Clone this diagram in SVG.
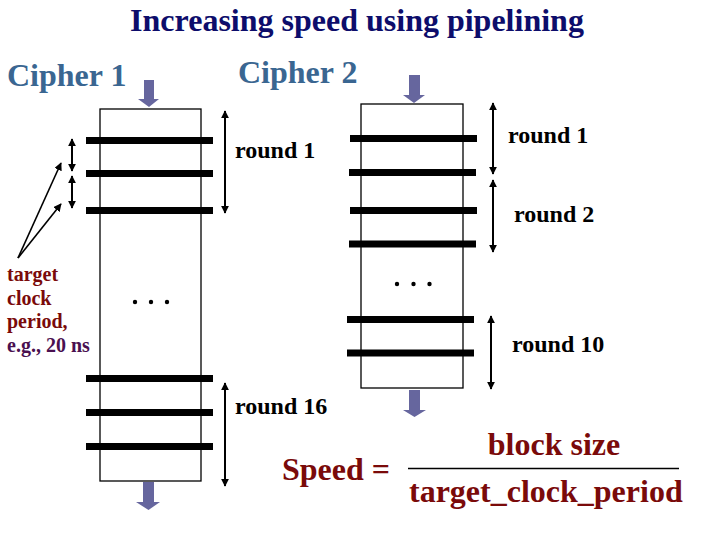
<svg xmlns="http://www.w3.org/2000/svg" width="720" height="540" viewBox="0 0 720 540">
<style>
text{font-family:"Liberation Serif","Tinos","Times New Roman","DejaVu Serif",serif;font-weight:bold}
.title{font-size:32px;fill:#0d0d6b}
.cipher{font-size:32px;fill:#3a6691}
.round{font-size:24px;fill:#000}
.note{font-size:20px;fill:#7a0a0a}
.eg{font-size:20px;fill:#4a1050}
.speed{font-size:32px;fill:#7a0a0a}
.box{fill:#fff;stroke:#000;stroke-width:1.3}
.bar{stroke:#000;stroke-width:7}
.dim{stroke:#000;stroke-width:2;fill:none;marker-start:url(#ah);marker-end:url(#ah)}
.diag{stroke:#000;stroke-width:1.6;fill:none;marker-end:url(#ah2)}
.flow{fill:#66669e}
</style>
<defs>
<marker id="ah" viewBox="0 0 10 10" refX="9" refY="5" markerWidth="4" markerHeight="4" orient="auto-start-reverse" markerUnits="strokeWidth">
<path d="M0,0 L10,5 L0,10 z" fill="#000"/>
</marker>
<marker id="ah2" viewBox="0 0 10 10" refX="9" refY="5" markerWidth="5" markerHeight="5" orient="auto" markerUnits="strokeWidth">
<path d="M0,0 L10,5 L0,10 z" fill="#000"/>
</marker>
</defs>
<rect width="720" height="540" fill="#fff"/>
<text class="title" x="357" y="31" text-anchor="middle">Increasing speed using pipelining</text>

<g id="cipher1">
<text class="cipher" x="7" y="86">Cipher 1</text>
<rect class="box" x="100" y="109" width="101" height="372"/>
<line class="bar" x1="86" y1="140.5" x2="213" y2="140.5"/>
<line class="bar" x1="86" y1="173.5" x2="213" y2="173.5"/>
<line class="bar" x1="86" y1="210.5" x2="213" y2="210.5"/>
<line class="bar" x1="86" y1="378.5" x2="213" y2="378.5"/>
<line class="bar" x1="86" y1="412.5" x2="213" y2="412.5"/>
<line class="bar" x1="86" y1="446.5" x2="213" y2="446.5"/>
<g fill="#000"><circle cx="135" cy="302" r="2.2"/><circle cx="151" cy="302" r="2.2"/><circle cx="167" cy="302" r="2.2"/></g>
<path class="flow" d="M144,80 H154 V99 H159 L149,107 L138,99 H144 Z"/>
<path class="flow" d="M143,482 H154 V502 H160 L148.5,510 L136,502 H143 Z"/>
</g>

<g id="cipher2">
<text class="cipher" x="238" y="83">Cipher 2</text>
<rect class="box" x="361" y="104" width="102" height="284"/>
<line class="bar" x1="350" y1="138.5" x2="477" y2="138.5"/>
<line class="bar" x1="349" y1="172.5" x2="476" y2="172.5"/>
<line class="bar" x1="350" y1="210.5" x2="477" y2="210.5"/>
<line class="bar" x1="349" y1="244" x2="476" y2="244"/>
<line class="bar" x1="347" y1="319.5" x2="474" y2="319.5"/>
<line class="bar" x1="347" y1="353" x2="474" y2="353"/>
<g fill="#000"><circle cx="397" cy="284" r="2.2"/><circle cx="413.5" cy="284" r="2.2"/><circle cx="429.5" cy="284" r="2.2"/></g>
<path class="flow" d="M409,75 H420 V95 H425 L414,103 L403,95 H409 Z"/>
<path class="flow" d="M409,390 H420 V410 H426 L414.5,417 L403,410 H409 Z"/>
</g>

<g id="labels">
<text class="round" x="235" y="158">round 1</text>
<text class="round" x="235" y="414">round 16</text>
<text class="round" x="508" y="143">round 1</text>
<text class="round" x="514" y="222">round 2</text>
<text class="round" x="512" y="352">round 10</text>
</g>

<g id="note">
<text class="note" x="7" y="281">target</text>
<text class="note" x="7" y="305">clock</text>
<text class="note" x="7" y="328">period,</text>
<text class="eg" x="7" y="352">e.g., 20 ns</text>
</g>

<g id="connectors">
<line class="dim" x1="225" y1="111" x2="225" y2="213"/>
<line class="dim" x1="225" y1="383" x2="225" y2="486"/>
<line class="dim" x1="493" y1="103" x2="493" y2="174"/>
<line class="dim" x1="493" y1="180" x2="493" y2="252"/>
<line class="dim" x1="491" y1="316" x2="491" y2="389"/>
<line class="dim" x1="72" y1="139" x2="72" y2="171"/>
<line class="dim" x1="72" y1="176" x2="72" y2="208"/>
<line class="diag" x1="18" y1="258" x2="61" y2="163"/>
<line class="diag" x1="18" y1="258" x2="61" y2="204"/>
</g>

<g id="formula">
<text class="speed" x="282" y="480">Speed =</text>
<text class="speed" x="554" y="455" text-anchor="middle">block size</text>
<line x1="408" y1="468.5" x2="679" y2="468.5" stroke="#000" stroke-width="1.3"/>
<text class="speed" x="409" y="502">target_clock_period</text>
</g>
</svg>
